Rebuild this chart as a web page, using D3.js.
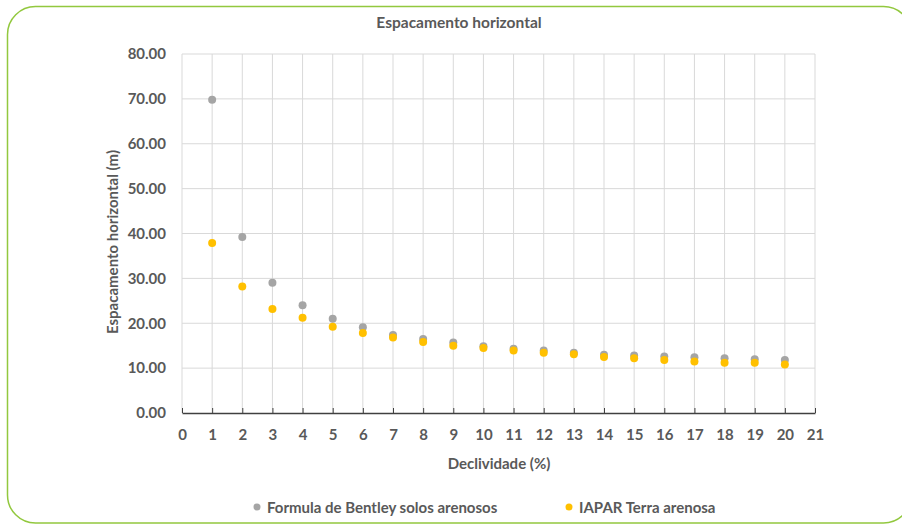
<!DOCTYPE html>
<html>
<head>
<meta charset="utf-8">
<script src="https://cdn.jsdelivr.net/npm/d3@7"></script>
<style>
  body { margin: 0; background: #fff; }
  text { font-family: Lato, "Open Sans", sans-serif; fill: #595959; }
</style>
</head>
<body>
<svg id="chart" width="902" height="524"></svg>
<script>
// declividade (%)
const declividade = [1,2,3,4,5,6,7,8,9,10,11,12,13,14,15,16,17,18,19,20];
// Formula de Bentley solos arenosos
const bentley = [69.8,39.2,29.0,24.0,21.0,19.1,17.4,16.5,15.7,14.9,14.3,13.9,13.4,13.0,12.8,12.6,12.4,12.2,12.0,11.8];
// IAPAR Terra arenosa
const iapar = [37.9,28.2,23.2,21.2,19.2,17.8,16.8,15.8,15.0,14.5,13.9,13.4,13.1,12.5,12.2,11.8,11.5,11.2,11.2,10.8];
const xTicks = d3.range(0, 22);
const yTicks = [0,10,20,30,40,50,60,70,80];

const series = [
  {name: 'Formula de Bentley solos arenosos', values: bentley, color: '#a5a5a5'},
  {name: 'IAPAR Terra arenosa', values: iapar, color: '#ffc000'}
];

const svg = d3.select('#chart');

// frame
svg.append('rect')
  .attr('x', 7.5).attr('y', 6.5)
  .attr('width', 904).attr('height', 516.5)
  .attr('rx', 28).attr('ry', 28)
  .style('fill', 'none')
  .style('stroke', '#92c83e')
  .style('stroke-width', 1.5);

const x = d3.scaleLinear().domain([0, 21]).range([182, 815]);
const y = d3.scaleLinear().domain([0, 80]).range([413, 54]);

// gridlines
svg.append('g').selectAll('line.h')
  .data(yTicks.slice(1))
  .enter().append('line')
  .attr('x1', x(0)).attr('x2', x(21))
  .attr('y1', d => y(d)).attr('y2', d => y(d))
  .style('stroke', '#d9d9d9');

svg.append('g').selectAll('line.v')
  .data(xTicks)
  .enter().append('line')
  .attr('x1', d => x(d)).attr('x2', d => x(d))
  .attr('y1', y(0)).attr('y2', y(80))
  .style('stroke', '#d9d9d9');

// x axis
var xAxis = svg.append('g')
  .attr('transform', 'translate(0,' + y(0) + ')')
  .call(d3.axisBottom(x).tickValues(xTicks).tickFormat(d3.format('d')).tickSizeInner(-5).tickSizeOuter(0).tickPadding(16));
xAxis.select('.domain').style('stroke', '#404040').style('stroke-width', 1.3);
xAxis.selectAll('.tick line').style('stroke', '#404040');
xAxis.selectAll('text')
  .style('font-size', '15px').style('font-weight', 'bold').style('fill', '#595959')
  .attr('font-family', null);

// y axis
var yAxis = svg.append('g')
  .attr('transform', 'translate(' + x(0) + ',0)')
  .call(d3.axisLeft(y).tickValues(yTicks).tickFormat(d3.format('.2f')).tickSize(0).tickPadding(16));
yAxis.select('.domain').remove();
yAxis.selectAll('text')
  .style('font-size', '15px').style('font-weight', 'bold').style('fill', '#595959')
  .attr('font-family', null);

// points
series.forEach(s => {
  svg.append('g').selectAll('circle')
    .data(declividade)
    .enter().append('circle')
    .attr('cx', d => x(d))
    .attr('cy', (d, i) => y(s.values[i]))
    .attr('r', 4)
    .style('fill', s.color);
});

// titles
svg.append('text')
  .attr('x', 459).attr('y', 28)
  .attr('text-anchor', 'middle')
  .style('font-size', '15.5px').style('font-weight', 'bold')
  .text('Espacamento horizontal');

svg.append('text')
  .attr('x', 499).attr('y', 469)
  .attr('text-anchor', 'middle')
  .style('font-size', '15px').style('font-weight', 'bold')
  .text('Declividade (%)');

svg.append('text')
  .attr('transform', 'translate(118,' + 242 + ') rotate(-90)')
  .attr('text-anchor', 'middle')
  .style('font-size', '15px').style('font-weight', 'bold')
  .text('Espacamento horizontal (m)');

// legend
var legendX = [257, 569];
var legend = svg.append('g').selectAll('g')
  .data(series)
  .enter().append('g')
  .attr('transform', (d, i) => 'translate(' + legendX[i] + ',507)');
legend.append('circle')
  .attr('r', 3.5)
  .style('fill', d => d.color);
legend.append('text')
  .attr('x', 10).attr('y', 5.5)
  .style('font-size', '15px').style('font-weight', 'bold')
  .text(d => d.name);
</script>
</body>
</html>
